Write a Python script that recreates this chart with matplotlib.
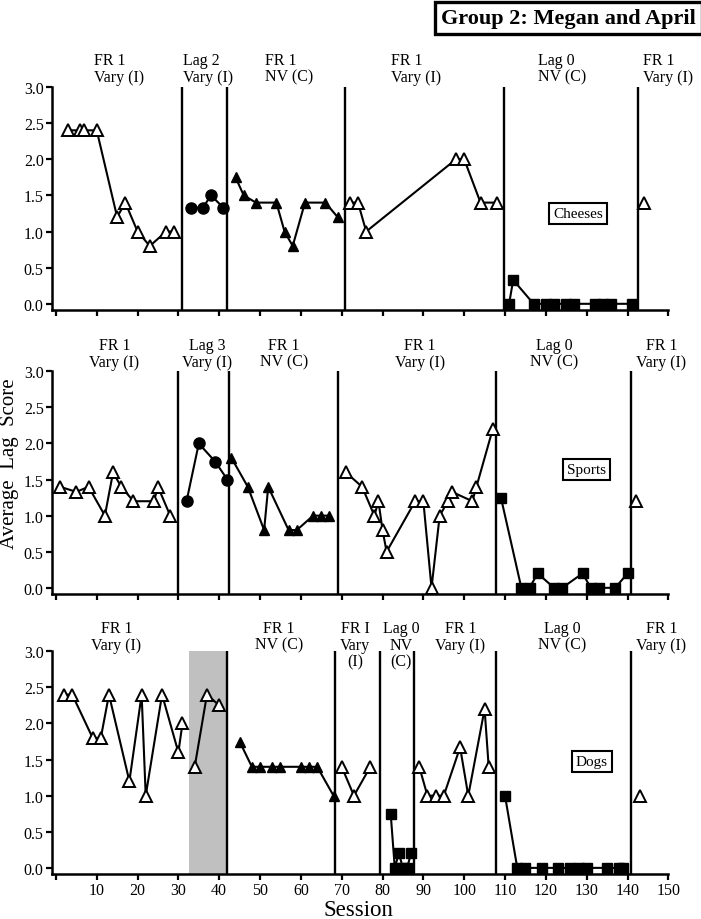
import matplotlib
matplotlib.use("Agg")
import matplotlib.pyplot as plt
from matplotlib.ticker import MultipleLocator, FuncFormatter

plt.rcParams["font.family"] = ["Liberation Serif", "DejaVu Serif"]

# ---- Cheeses (top) ----
ch_s1 = [3, 6, 7, 10, 15, 17, 20, 23, 27, 29]
ch_v1 = [2.4, 2.4, 2.4, 2.4, 1.2, 1.4, 1.0, 0.8, 1.0, 1.0]
ch_s2 = [33, 36, 38, 41]
ch_v2 = [1.33, 1.33, 1.5, 1.33]
ch_s3 = [44, 46, 49, 54, 56, 58, 61, 66, 69]
ch_v3 = [1.75, 1.5, 1.4, 1.4, 1.0, 0.8, 1.4, 1.4, 1.2]
ch_s4 = [72, 74, 76, 98, 100, 104, 108]
ch_v4 = [1.4, 1.4, 1.0, 2.0, 2.0, 1.4, 1.4]
ch_s5 = [111, 112, 117, 120, 122, 125, 127, 132, 134, 136, 141]
ch_v5 = [0, 0.33, 0, 0, 0, 0, 0, 0, 0, 0, 0]
ch_s6 = [144]
ch_v6 = [1.4]
ch_lines = [30.9, 41.9, 70.8, 109.8, 142.5]
ch_phases = ["FR 1\nVary (I)", "Lag 2\nVary (I)", "FR 1\nNV (C)",
             "FR 1\nVary (I)", "Lag 0\nNV (C)", "FR 1\nVary (I)"]
ch_phase_x = [15.5, 37.3, 57.1, 88.2, 124.1, 150]

# ---- Sports (middle) ----
sp_s1 = [1, 5, 8, 12, 14, 16, 19, 24, 25, 28]
sp_v1 = [1.4, 1.33, 1.4, 1.0, 1.6, 1.4, 1.2, 1.2, 1.4, 1.0]
sp_s2 = [32, 35, 39, 42]
sp_v2 = [1.2, 2.0, 1.75, 1.5]
sp_s3 = [43, 47, 51, 52, 57, 59, 63, 65, 67]
sp_v3 = [1.8, 1.4, 0.8, 1.4, 0.8, 0.8, 1.0, 1.0, 1.0]
sp_s4 = [71, 75, 78, 79, 80, 81, 88, 90, 92, 94, 96, 97, 102, 103, 107]
sp_v4 = [1.6, 1.4, 1.0, 1.2, 0.8, 0.5, 1.2, 1.2, 0.0, 1.0, 1.2, 1.33, 1.2, 1.4, 2.2]
sp_s5 = [109, 114, 116, 118, 122, 124, 129, 131, 133, 137, 140]
sp_v5 = [1.25, 0, 0, 0.2, 0, 0, 0.2, 0, 0, 0, 0.2]
sp_s6 = [142]
sp_v6 = [1.2]
sp_lines = [29.8, 42.4, 69.0, 107.9, 140.9]
sp_phases = ["FR 1\nVary (I)", "Lag 3\nVary (I)", "FR 1\nNV (C)",
             "FR 1\nVary (I)", "Lag 0\nNV (C)", "FR 1\nVary (I)"]
sp_phase_x = [14.3, 37.0, 55.9, 89.2, 122.1, 148.3]

# ---- Dogs (bottom) ----
dg_s1 = [2, 4, 9, 11, 13, 18, 21, 22, 26, 30, 31]
dg_v1 = [2.4, 2.4, 1.8, 1.8, 2.4, 1.2, 2.4, 1.0, 2.4, 1.6, 2.0]
dg_s2 = [34, 37, 40]
dg_v2 = [1.4, 2.4, 2.25]
dg_s3 = [45, 48, 50, 53, 55, 60, 62, 64, 68]
dg_v3 = [1.75, 1.4, 1.4, 1.4, 1.4, 1.4, 1.4, 1.4, 1.0]
dg_s4 = [70, 73, 77]
dg_v4 = [1.4, 1.0, 1.4]
dg_s5 = [82, 83, 84, 85, 86, 87]
dg_v5 = [0.75, 0, 0.2, 0, 0, 0.2]
dg_s6 = [89, 91, 93, 95, 99, 101, 105, 106]
dg_v6 = [1.4, 1.0, 1.0, 1.0, 1.67, 1.0, 2.2, 1.4]
dg_s7 = [110, 113, 115, 119, 123, 126, 128, 130, 135, 138, 139]
dg_v7 = [1.0, 0, 0, 0, 0, 0, 0, 0, 0, 0, 0]
dg_s8 = [143]
dg_v8 = [1.0]
dg_lines = [41.9, 68.4, 79.4, 87.7, 107.9, 140.9]
dg_shade = (32.6, 41.9)
dg_phases = ["FR 1\nVary (I)", "FR 1\nNV (C)", "FR I\nVary\n(I)", "Lag 0\nNV\n(C)",
             "FR 1\nVary (I)", "Lag 0\nNV (C)", "FR 1\nVary (I)"]
dg_phase_x = [14.8, 54.6, 73.3, 84.5, 99.1, 124.1, 148.3]

OPEN_TRI = dict(marker="^", mfc="white", mec="black", ms=8, mew=1.4)
FILL_TRI = dict(marker="^", mfc="black", mec="black", ms=7.5, mew=1)
CIRCLE = dict(marker="o", mfc="black", mec="black", ms=8, mew=1)
SQUARE = dict(marker="s", mfc="black", mec="black", ms=7.5, mew=1)

panels = [
    dict(name="Cheeses", box=(127.9, 1.25), text_top=3.48, align="left",
         series=[(ch_s1, ch_v1, OPEN_TRI), (ch_s2, ch_v2, CIRCLE), (ch_s3, ch_v3, FILL_TRI),
                 (ch_s4, ch_v4, OPEN_TRI), (ch_s5, ch_v5, SQUARE), (ch_s6, ch_v6, OPEN_TRI)],
         lines=ch_lines, phases=ch_phases, phase_x=ch_phase_x, shade=None),
    dict(name="Sports", box=(130.0, 1.64), text_top=3.475, align="center",
         series=[(sp_s1, sp_v1, OPEN_TRI), (sp_s2, sp_v2, CIRCLE), (sp_s3, sp_v3, FILL_TRI),
                 (sp_s4, sp_v4, OPEN_TRI), (sp_s5, sp_v5, SQUARE), (sp_s6, sp_v6, OPEN_TRI)],
         lines=sp_lines, phases=sp_phases, phase_x=sp_phase_x, shade=None),
    dict(name="Dogs", box=(131.3, 1.47), text_top=3.43, align="center",
         series=[(dg_s1, dg_v1, OPEN_TRI), (dg_s2, dg_v2, OPEN_TRI), (dg_s3, dg_v3, FILL_TRI),
                 (dg_s4, dg_v4, OPEN_TRI), (dg_s5, dg_v5, SQUARE), (dg_s6, dg_v6, OPEN_TRI),
                 (dg_s7, dg_v7, SQUARE), (dg_s8, dg_v8, OPEN_TRI)],
         lines=dg_lines, phases=dg_phases, phase_x=dg_phase_x, shade=dg_shade),
]

fig = plt.figure(figsize=(7.01, 9.20), dpi=100)

# axes boxes in figure fractions (left, bottom, width, height)
boxes = [(0.0742, 0.6620, 0.8792, 0.2424),
         (0.0742, 0.3533, 0.8792, 0.2420),
         (0.0742, 0.0489, 0.8792, 0.2421)]

for i, (p, rect) in enumerate(zip(panels, boxes)):
    ax = fig.add_axes(rect)
    ax.set_xlim(-0.95, 150)
    ax.set_ylim(-0.085, 3.0)

    if p["shade"] is not None:
        ax.axvspan(p["shade"][0], p["shade"][1], color="#c0c0c0", lw=0, zorder=0)

    for xv in p["lines"]:
        ax.axvline(xv, color="black", lw=1.7, zorder=1)

    for xs, ys, style in p["series"]:
        ax.plot(xs, ys, color="black", lw=1.5, clip_on=False, zorder=3, **style)

    for lab, xv in zip(p["phases"], p["phase_x"]):
        ax.text(xv, p["text_top"], lab, ha="center", va="top", fontsize=11.5,
                multialignment=p["align"], linespacing=1.05, clip_on=False)

    ax.text(p["box"][0], p["box"][1], p["name"], ha="center", va="center", fontsize=11,
            bbox=dict(boxstyle="square,pad=0.25", fc="white", ec="black", lw=1.5))

    ax.spines["top"].set_visible(False)
    ax.spines["right"].set_visible(False)
    ax.spines["left"].set_linewidth(1.8)
    ax.spines["bottom"].set_linewidth(1.8)

    ax.xaxis.set_major_locator(MultipleLocator(10))
    ax.yaxis.set_major_locator(MultipleLocator(0.5))
    ax.yaxis.set_major_formatter(FuncFormatter(lambda v, pos: f"{v:.1f}"))
    if i == 2:
        ax.xaxis.set_major_formatter(FuncFormatter(lambda v, pos: "" if v == 0 else f"{v:.0f}"))
    else:
        ax.set_xticklabels([])
    ax.tick_params(direction="out", length=4, width=1.6, labelsize=11.5, pad=2)
    ax.set_xticks(range(0, 151, 10))

# x label sits at the very bottom edge, below the tick labels
fig.text(0.512, 0.004, "Session", ha="center", va="baseline", fontsize=16.5)

fig.text(0.014, 0.496, "Average  Lag  Score", rotation=90, ha="center", va="center",
         fontsize=15)

fig.text(0.9925, 0.9795, "Group 2: Megan and April", ha="right", va="center",
         fontsize=16, fontweight="bold",
         bbox=dict(boxstyle="square,pad=0.28", fc="white", ec="black", lw=2.4))

fig.savefig("out.png", dpi=100)
